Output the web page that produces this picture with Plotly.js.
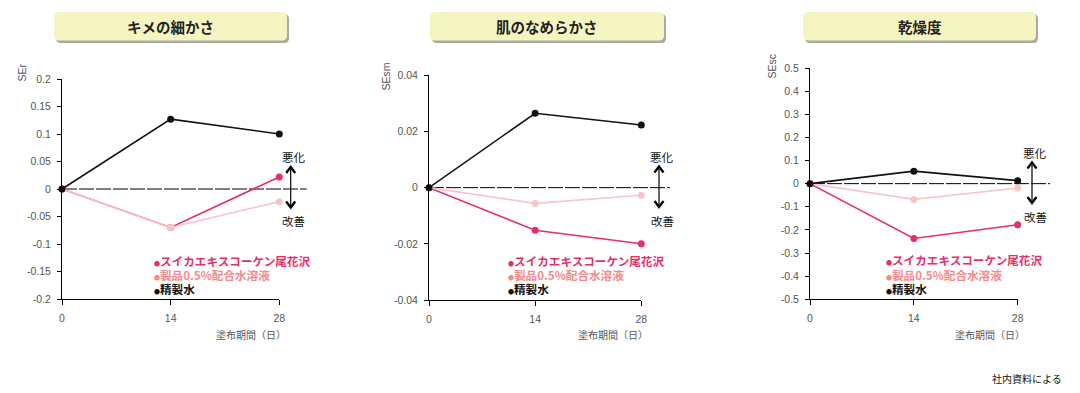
<!DOCTYPE html>
<html><head><meta charset="utf-8">
<script src="https://cdn.plot.ly/plotly-3.0.1.min.js"></script>
<style>html,body{margin:0;padding:0;background:#fff;}#chart{width:1080px;height:393px;}</style>
</head><body><div id="chart"></div>
<script>
// ---- data ----
const days = [0, 14, 28];
const panelTitles = ['キメの細かさ', '肌のなめらかさ', '乾燥度'];
const yTitles = ['SEr', 'SEsm', 'SEsc'];
const seriesNames = ['スイカエキスコーケン尾花沢', '製品0.5%配合水溶液', '精製水'];
const xTitle = '塗布期間（日）';
const upLabel = '悪化';
const downLabel = '改善';
const footnote = '社内資料による';

const ser_extract = [0, -0.070, 0.022];
const ser_product = [0, -0.070, -0.023];
const ser_water   = [0, 0.127, 0.100];

const sesm_extract = [0, -0.0152, -0.0200];
const sesm_product = [0, -0.0056, -0.0027];
const sesm_water   = [0, 0.0265, 0.0223];

const sesc_extract = [0, -0.237, -0.178];
const sesc_product = [0, -0.068, -0.019];
const sesc_water   = [0, 0.054, 0.013];

const ser_ticks  = [0.2, 0.15, 0.1, 0.05, 0, -0.05, -0.1, -0.15, -0.2];
const ser_labels = ['0.2', '0.15', '0.1', '0.05', '0', '-0.05', '-0.1', '-0.15', '-0.2'];
const sesm_ticks  = [0.04, 0.02, 0, -0.02, -0.04];
const sesm_labels = ['0.04', '0.02', '0', '-0.02', '-0.04'];
const sesc_ticks  = [0.5, 0.4, 0.3, 0.2, 0.1, 0, -0.1, -0.2, -0.3, -0.4, -0.5];
const sesc_labels = ['0.5', '0.4', '0.3', '0.2', '0.1', '0', '-0.1', '-0.2', '-0.3', '-0.4', '-0.5'];
const xTickLabels = ['0', '14', '28'];

// ---- styling / layout geometry ----
const W = 1080, H = 393;
const colors = ['#e62e6b', '#f8c6c8', '#111111'];
const legendColors = ['#e62e6b', '#f28b8b', '#111111'];
const JP = '"Noto Sans CJK JP", "Noto Sans", sans-serif';
const NUM = '"Liberation Sans", Arial, sans-serif';
const px = v => v / W;
const py = v => 1 - v / H;

const panels = [
  {data: [ser_extract, ser_product, ser_water], ticks: ser_ticks, labels: ser_labels, range: [-0.2, 0.2],
   x0: 62, x1: 279.3, yTop: 79, yBot: 299, zeroEnd: 306.7, arrowX: 290.7, zeroY: 188,
   titleBox: [54, 287], yTitle: [21.5, 73], legX: 152, legY: [260.7, 275, 289.3]},
  {data: [sesm_extract, sesm_product, sesm_water], ticks: sesm_ticks, labels: sesm_labels, range: [-0.04, 0.04],
   x0: 429, x1: 641.3, yTop: 75.3, yBot: 300, zeroEnd: 670, arrowX: 659, zeroY: 187.5,
   titleBox: [430, 664], yTitle: [386, 76.5], legX: 506, legY: [260.7, 275, 289.3]},
  {data: [sesc_extract, sesc_product, sesc_water], ticks: sesc_ticks, labels: sesc_labels, range: [-0.5, 0.5],
   x0: 810, x1: 1017.7, yTop: 68, yBot: 299.3, zeroEnd: 1050, arrowX: 1032, zeroY: 183.5,
   titleBox: [803, 1036], yTitle: [771, 66.5], legX: 883.5, legY: [260, 274.7, 289]}
];

function roundRect(x0, y0, x1, y1, r) {
  const X0 = px(x0), X1 = px(x1), Y0 = py(y0), Y1 = py(y1);
  const rx = r / W, ry = r / H;
  return `M${X0 + rx},${Y0} L${X1 - rx},${Y0} Q${X1},${Y0} ${X1},${Y0 - ry} L${X1},${Y1 + ry} Q${X1},${Y1} ${X1 - rx},${Y1} L${X0 + rx},${Y1} Q${X0},${Y1} ${X0},${Y1 + ry} L${X0},${Y0 - ry} Q${X0},${Y0} ${X0 + rx},${Y0} Z`;
}

const traces = [];
const shapes = [];
const annotations = [];
const layout = {
  width: W, height: H, margin: {l: 0, r: 0, t: 0, b: 0},
  paper_bgcolor: '#fff', plot_bgcolor: 'rgba(0,0,0,0)', showlegend: false,
  font: {family: NUM, size: 10.5, color: '#555'}
};

panels.forEach((p, i) => {
  const sfx = i === 0 ? '' : String(i + 1);
  const xa = 'x' + sfx, ya = 'y' + sfx;
  layout['xaxis' + sfx] = {
    domain: [px(p.x0), px(p.x1)], range: [0, 28], anchor: ya,
    showline: true, linecolor: '#000', linewidth: 1, showgrid: false, zeroline: false,
    ticks: 'outside', ticklen: 5, tickcolor: '#000', tickwidth: 1,
    tickvals: days, ticktext: xTickLabels, ticklabelstandoff: 4,
    tickfont: {family: NUM, size: 10.5, color: '#555'}, fixedrange: true
  };
  layout['yaxis' + sfx] = {
    domain: [py(p.yBot), py(p.yTop)], range: p.range, anchor: xa,
    showline: true, linecolor: '#000', linewidth: 1, showgrid: false, zeroline: false,
    ticks: 'outside', ticklen: 4, tickcolor: '#000', tickwidth: 1,
    tickvals: p.ticks, ticktext: p.labels, ticklabelstandoff: 4,
    tickfont: {family: NUM, size: 10.5, color: '#555'}, fixedrange: true
  };

  // zero dashed line
  shapes.push({type: 'line', xref: 'paper', yref: ya, x0: px(p.x0), x1: px(p.zeroEnd), y0: 0, y1: 0,
    line: {color: '#000', width: 1, dash: '15px,2px'}, layer: 'below'});

  // series
  p.data.forEach((vals, k) => {
    traces.push({
      x: days, y: vals, xaxis: xa, yaxis: ya, type: 'scatter', mode: 'lines+markers',
      name: seriesNames[k], cliponaxis: false,
      line: {color: colors[k], width: 1.6}, marker: {color: colors[k], size: 7},
      hoverinfo: 'skip'
    });
  });

  // title box with shadow
  const [bx0, bx1] = p.titleBox;
  shapes.push({type: 'path', xref: 'paper', yref: 'paper', path: roundRect(bx0 + 2, 14, bx1 + 2, 43, 5),
    fillcolor: '#a9a9a0', line: {width: 0}, layer: 'below'});
  shapes.push({type: 'path', xref: 'paper', yref: 'paper', path: roundRect(bx0, 12, bx1, 40.5, 5),
    fillcolor: '#f5f5c2', line: {width: 0}, layer: 'below'});
  annotations.push({xref: 'paper', yref: 'paper', x: px((bx0 + bx1) / 2), y: py(26.5), text: '<b>' + panelTitles[i] + '</b>',
    showarrow: false, xanchor: 'center', yanchor: 'middle', font: {family: JP, size: 14.5, color: '#222'}});

  // y title
  annotations.push({xref: 'paper', yref: 'paper', x: px(p.yTitle[0]), y: py(p.yTitle[1]), text: yTitles[i],
    textangle: -90, showarrow: false, xanchor: 'center', yanchor: 'middle', font: {family: NUM, size: 10.5, color: '#555'}});

  // x title
  annotations.push({xref: 'paper', yref: 'paper', x: px(p.x1 + 9), y: py(334), text: xTitle,
    showarrow: false, xanchor: 'right', yanchor: 'middle', font: {family: JP, size: 10, color: '#555'}});

  // arrows
  const ax = p.arrowX, zy = p.zeroY;
  const upTip = zy - 21, downTip = zy + 19.5;
  shapes.push({type: 'line', xref: 'paper', yref: 'paper', x0: px(ax), x1: px(ax), y0: py(upTip + 1), y1: py(downTip - 1),
    line: {color: '#000', width: 1.2}});
  shapes.push({type: 'path', xref: 'paper', yref: 'paper',
    path: `M${px(ax - 4.5)},${py(upTip + 6)} L${px(ax)},${py(upTip)} L${px(ax + 4.5)},${py(upTip + 6)}`,
    line: {color: '#000', width: 2.3}});
  shapes.push({type: 'path', xref: 'paper', yref: 'paper',
    path: `M${px(ax - 4.5)},${py(downTip - 6)} L${px(ax)},${py(downTip)} L${px(ax + 4.5)},${py(downTip - 6)}`,
    line: {color: '#000', width: 2.3}});
  annotations.push({xref: 'paper', yref: 'paper', x: px(ax + 3), y: py(zy - 31), text: upLabel,
    showarrow: false, xanchor: 'center', yanchor: 'middle', font: {family: JP, size: 11.5, color: '#111'}});
  annotations.push({xref: 'paper', yref: 'paper', x: px(ax + 3), y: py(zy + 33), text: downLabel,
    showarrow: false, xanchor: 'center', yanchor: 'middle', font: {family: JP, size: 11.5, color: '#111'}});

  // legend text
  seriesNames.forEach((nm, k) => {
    annotations.push({xref: 'paper', yref: 'paper', x: px(p.legX), y: py(p.legY[k]),
      text: '<span style="font-size:6px">●</span><b>' + nm + '</b>',
      showarrow: false, xanchor: 'left', yanchor: 'middle', font: {family: JP, size: 11.6, color: legendColors[k]}});
  });
});

annotations.push({xref: 'paper', yref: 'paper', x: px(1064), y: py(378), text: footnote,
  showarrow: false, xanchor: 'right', yanchor: 'middle', font: {family: JP, size: 10, color: '#111'}});

layout.shapes = shapes;
layout.annotations = annotations;

Plotly.newPlot('chart', traces, layout, {displayModeBar: false, staticPlot: true});
</script>
</body></html>
